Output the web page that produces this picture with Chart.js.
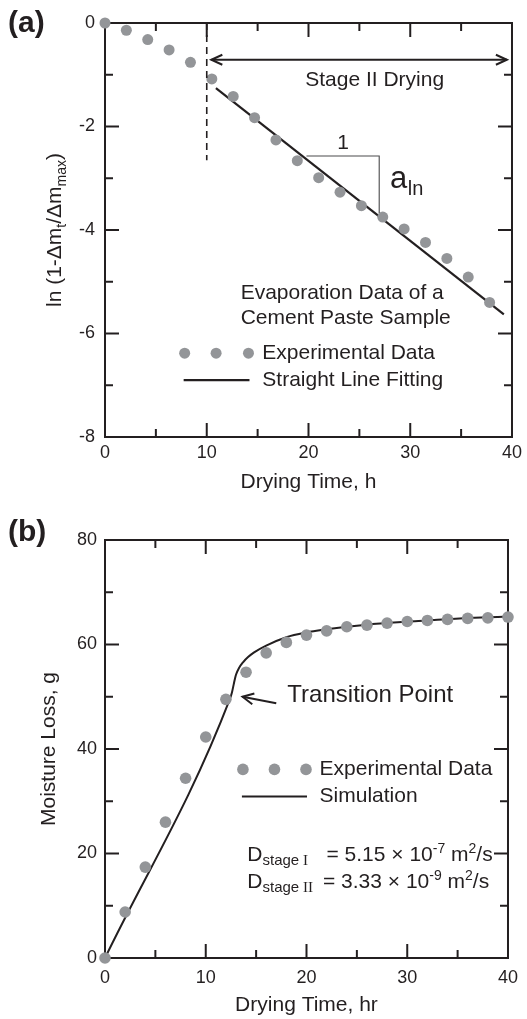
<!DOCTYPE html>
<html><head><meta charset="utf-8">
<script src="https://cdn.jsdelivr.net/npm/chart.js@4/dist/chart.umd.min.js"></script>
<style>
html,body{margin:0;padding:0;background:#fff;width:527px;height:1019px;overflow:hidden}
.box{position:absolute;left:0;width:527px}
#boxA{top:0;height:500px}
#boxB{top:500px;height:519px}
</style></head><body>
<div class="box" id="boxA"><canvas id="ca"></canvas></div>
<div class="box" id="boxB"><canvas id="cb"></canvas></div>
<script>
// ---------- data (a) ----------
const timeA = [0, 2.1, 4.2, 6.3, 8.4, 10.5, 12.6, 14.7, 16.8, 18.9, 21.0, 23.1, 25.2, 27.3, 29.4, 31.5, 33.6, 35.7, 37.8];
const lnA   = [0, -0.14, -0.32, -0.52, -0.76, -1.08, -1.42, -1.83, -2.26, -2.66, -2.99, -3.27, -3.53, -3.75, -3.98, -4.24, -4.55, -4.91, -5.40];
const fitTime = [10.9, 39.2];
const fitLn   = [-1.26, -5.63];
// ---------- data (b) ----------
const timeB = [0, 2, 4, 6, 8, 10, 12, 14, 16, 18, 20, 22, 24, 26, 28, 30, 32, 34, 36, 38, 40];
const lossB = [0, 8.8, 17.4, 26.0, 34.4, 42.3, 49.5, 54.7, 58.4, 60.4, 61.8, 62.6, 63.4, 63.7, 64.1, 64.4, 64.6, 64.8, 65.0, 65.1, 65.25];
const simTime = [0, 12.4, 12.6, 12.8, 13.0, 13.3, 13.7, 14.2, 14.8, 16, 18, 20, 22, 24, 26, 28, 30, 32, 34, 36, 38, 40];
const simLoss = [0, 49.6, 50.8, 52.6, 54.2, 55.5, 56.6, 57.6, 58.5, 59.8, 61.4, 62.3, 62.9, 63.4, 63.8, 64.1, 64.4, 64.6, 64.85, 65.05, 65.2, 65.35];
// ---------- ticks ----------
const xMajor = [0, 10, 20, 30, 40];
const xMinor = [5, 15, 25, 35];
const yMajorA = [0, -2, -4, -6, -8];
const yMinorA = [-1, -3, -5, -7];
const yMajorB = [0, 20, 40, 60, 80];
const yMinorB = [10, 30, 50, 70];

const INK = '#231f20', GRAY = '#939598';
const FF = "'Liberation Sans', Arial, Helvetica, sans-serif";
const SERIF = "'Liberation Serif', 'Times New Roman', serif";

function pts(xs, ys){ return xs.map((v,i)=>({x:v, y:ys[i]})); }
function seg(ctx,x1,y1,x2,y2){ ctx.beginPath(); ctx.moveTo(x1,y1); ctx.lineTo(x2,y2); ctx.stroke(); }
function head(ctx, tx, ty, fx, fy, len, half){
  const a = Math.atan2(ty-fy, tx-fx);
  const c = Math.cos(a), s = Math.sin(a);
  const bx = tx - c*len, by = ty - s*len;
  ctx.beginPath();
  ctx.moveTo(bx - s*half, by + c*half);
  ctx.lineTo(tx, ty);
  ctx.lineTo(bx + s*half, by - c*half);
  ctx.stroke();
}
function text(ctx, s, x, y, font, align, base){
  ctx.font = font; ctx.textAlign = align || 'left'; ctx.textBaseline = base || 'middle';
  ctx.fillStyle = INK; ctx.fillText(s, x, y);
}
// sequence of [string, font, baselineOffset]
function runs(ctx, parts, x, y){
  ctx.textAlign='left'; ctx.textBaseline='alphabetic'; ctx.fillStyle=INK;
  let cx = x;
  for (const [s,f,dy] of parts){ ctx.font=f; ctx.fillText(s, cx, y+(dy||0)); cx += ctx.measureText(s).width; }
  return cx;
}
function runsWidth(ctx, parts){ let w=0; for (const [s,f] of parts){ ctx.font=f; w+=ctx.measureText(s).width; } return w; }

const framePlugin = {
  id: 'frame',
  beforeDatasetsDraw(chart, args, o){
    const {ctx, chartArea:a, scales:{x,y}} = chart;
    ctx.save();
    ctx.strokeStyle = INK; ctx.lineWidth = 2; ctx.lineCap='butt';
    ctx.strokeRect(a.left, a.top, a.right-a.left, a.bottom-a.top);
    const L = 14, S = 8;
    for (const v of o.xMajor){ const p=x.getPixelForValue(v); seg(ctx,p,a.bottom,p,a.bottom-L); seg(ctx,p,a.top,p,a.top+L); }
    for (const v of o.xMinor){ const p=x.getPixelForValue(v); seg(ctx,p,a.bottom,p,a.bottom-S); seg(ctx,p,a.top,p,a.top+S); }
    for (const v of o.yMajor){ const p=y.getPixelForValue(v); seg(ctx,a.left,p,a.left+L,p); seg(ctx,a.right,p,a.right-L,p); }
    for (const v of o.yMinor){ const p=y.getPixelForValue(v); seg(ctx,a.left,p,a.left+S,p); seg(ctx,a.right,p,a.right-S,p); }
    ctx.restore();
  }
};

function scaleX(ticksArr, pad, h){
  return { type:'linear', min:0, max:40,
    afterBuildTicks: s => { s.ticks = ticksArr.map(v=>({value:v})); },
    ticks:{ font:{family:FF, size:18}, color:INK, padding:pad, maxRotation:0, autoSkip:false },
    grid:{ display:false, drawTicks:false }, border:{ display:false },
    afterFit: s => { s.height = h; } };
}
function scaleY(min, max, ticksArr, pad){
  return { type:'linear', min:min, max:max,
    afterBuildTicks: s => { s.ticks = ticksArr.map(v=>({value:v})); },
    ticks:{ font:{family:FF, size:18}, color:INK, padding:pad, autoSkip:false },
    grid:{ display:false, drawTicks:false }, border:{ display:false },
    afterFit: s => { s.width = 105; } };
}

// ---------- chart (a) ----------
const annotA = {
  id:'annotA',
  afterDatasetsDraw(chart){
    const {ctx, scales:{x,y}, chartArea:a} = chart;
    const X = v=>x.getPixelForValue(v), Y = v=>y.getPixelForValue(v);
    ctx.save();
    ctx.strokeStyle = INK;
    // dashed separator
    ctx.lineWidth = 1.6; ctx.setLineDash([7,5]);
    seg(ctx, X(10), Y(0), X(10), Y(-2.65));
    ctx.setLineDash([]);
    // double arrow
    ctx.lineWidth = 2;
    seg(ctx, X(10.45), Y(-0.71), X(39.5), Y(-0.71));
    head(ctx, X(10.45), Y(-0.71), X(20), Y(-0.71), 11, 5);
    head(ctx, X(39.5), Y(-0.71), X(30), Y(-0.71), 11, 5);
    text(ctx, 'Stage II Drying', X(26.5), Y(-1.10), `21px ${FF}`, 'center', 'middle');
    // slope triangle
    ctx.lineWidth = 1.1; ctx.strokeStyle = '#4a4a4c';
    ctx.beginPath(); ctx.moveTo(X(19.8), Y(-2.57)); ctx.lineTo(X(26.95), Y(-2.57)); ctx.lineTo(X(26.95), Y(-3.67)); ctx.stroke();
    text(ctx, '1', X(23.4), Y(-2.32), `21px ${FF}`, 'center', 'middle');
    text(ctx, 'a', X(28.0), Y(-3.19), `31px ${FF}`, 'left', 'alphabetic');
    text(ctx, 'ln', X(29.76), Y(-3.32), `20px ${FF}`, 'left', 'alphabetic');
    // legend block
    text(ctx, 'Evaporation Data of a', X(13.33), Y(-5.22), `21px ${FF}`, 'left', 'middle');
    text(ctx, 'Cement Paste Sample', X(13.33), Y(-5.70), `21px ${FF}`, 'left', 'middle');
    ctx.fillStyle = GRAY;
    for (const xv of [7.83, 10.92, 14.1]){ ctx.beginPath(); ctx.arc(X(xv), Y(-6.38), 5.5, 0, Math.PI*2); ctx.fill(); }
    text(ctx, 'Experimental Data', X(15.46), Y(-6.38), `21px ${FF}`, 'left', 'middle');
    ctx.strokeStyle = INK; ctx.lineWidth = 2.2;
    seg(ctx, X(7.73), Y(-6.90), X(14.2), Y(-6.90));
    text(ctx, 'Straight Line Fitting', X(15.46), Y(-6.90), `21px ${FF}`, 'left', 'middle');
    // panel letter
    text(ctx, '(a)', 8, 32, `bold 30px ${FF}`, 'left', 'alphabetic');
    // axis titles
    text(ctx, 'Drying Time, h', (a.left+a.right)/2, 482, `21px ${FF}`, 'center', 'middle');
    const main = `21px ${FF}`, sub = `14px ${FF}`;
    const parts = [['ln (1-\u0394m',main,0],['t',sub,5],['/\u0394m',main,0],['max',sub,5],[')',main,0]];
    ctx.save();
    ctx.translate(61, (a.top+a.bottom)/2);
    ctx.rotate(-Math.PI/2);
    const w = runsWidth(ctx, parts);
    runs(ctx, parts, -w/2, 0);
    ctx.restore();
    ctx.restore();
  }
};

new Chart(document.getElementById('ca'), {
  data: { datasets: [
    { type:'scatter', label:'Experimental Data', data: pts(timeA, lnA), backgroundColor:GRAY, borderWidth:0, pointRadius:5.5, clip:false },
    { type:'line', label:'Straight Line Fitting', data: pts(fitTime, fitLn), borderColor:INK, borderWidth:2.2, pointRadius:0, fill:false, clip:false }
  ]},
  options: {
    responsive:true, maintainAspectRatio:false, animation:false, devicePixelRatio:1,
    layout:{ padding:{ top:23, right:8, left:0, bottom:0 } },
    plugins:{ legend:{display:false}, tooltip:{enabled:false},
      frame:{ xMajor, xMinor, yMajor:yMajorA, yMinor:yMinorA } },
    scales:{ x: scaleX(xMajor, 5, 63), y: scaleY(-8, 0, yMajorA, 10) }
  },
  plugins:[framePlugin, annotA]
});

// ---------- chart (b) ----------
const annotB = {
  id:'annotB',
  afterDatasetsDraw(chart){
    const {ctx, scales:{x,y}, chartArea:a} = chart;
    const X = v=>x.getPixelForValue(v), Y = v=>y.getPixelForValue(v);
    ctx.save();
    ctx.strokeStyle = INK; ctx.lineWidth = 2;
    // transition arrow
    seg(ctx, X(17.0), Y(48.75), X(13.65), Y(50.0));
    head(ctx, X(13.65), Y(50.0), X(17.0), Y(48.75), 11, 5.5);
    text(ctx, 'Transition Point', X(18.1), Y(50.3), `24px ${FF}`, 'left', 'middle');
    // legend
    ctx.fillStyle = GRAY;
    for (const xv of [13.69, 16.82, 19.95]){ ctx.beginPath(); ctx.arc(X(xv), Y(36.1), 5.8, 0, Math.PI*2); ctx.fill(); }
    text(ctx, 'Experimental Data', X(21.3), Y(36.1), `21px ${FF}`, 'left', 'middle');
    ctx.lineWidth = 2;
    seg(ctx, X(13.59), Y(30.9), X(20.05), Y(30.9));
    text(ctx, 'Simulation', X(21.3), Y(30.9), `21px ${FF}`, 'left', 'middle');
    // diffusivities
    const big = `21px ${FF}`, sm = `15px ${FF}`, smS = `15px ${SERIF}`, sup = `14px ${FF}`;
    const b1 = Y(18.47), b2 = Y(13.38), dx = X(14.13);
    runs(ctx, [['D',big,0],['stage',sm,4],[' I',smS,4]], dx, b1);
    runs(ctx, [['= 5.15 \u00d7 10',big,0],['-7',sup,-8],[' m',big,0],['2',sup,-8],['/s',big,0]], 326.5, b1);
    runs(ctx, [['D',big,0],['stage',sm,4],[' II',smS,4]], dx, b2);
    runs(ctx, [['= 3.33 \u00d7 10',big,0],['-9',sup,-8],[' m',big,0],['2',sup,-8],['/s',big,0]], 323, b2);
    // panel letter
    text(ctx, '(b)', 8, 41, `bold 30px ${FF}`, 'left', 'alphabetic');
    // axis titles
    text(ctx, 'Drying Time, hr', (a.left+a.right)/2, 505, `21px ${FF}`, 'center', 'middle');
    ctx.save();
    ctx.translate(55, (a.top+a.bottom)/2);
    ctx.rotate(-Math.PI/2);
    text(ctx, 'Moisture Loss, g', 0, 0, `21px ${FF}`, 'center', 'alphabetic');
    ctx.restore();
    ctx.restore();
  }
};

new Chart(document.getElementById('cb'), {
  data: { datasets: [
    { type:'line', label:'Simulation', data: pts(simTime, simLoss), borderColor:INK, borderWidth:2, pointRadius:0, fill:false, cubicInterpolationMode:'monotone', clip:false, order:2 },
    { type:'scatter', label:'Experimental Data', data: pts(timeB, lossB), backgroundColor:GRAY, borderWidth:0, pointRadius:5.8, clip:false, order:1 }
  ]},
  options: {
    responsive:true, maintainAspectRatio:false, animation:false, devicePixelRatio:1,
    layout:{ padding:{ top:40, right:7, left:0, bottom:0 } },
    plugins:{ legend:{display:false}, tooltip:{enabled:false},
      frame:{ xMajor, xMinor, yMajor:yMajorB, yMinor:yMinorB } },
    scales:{ x: scaleX(xMajor, 9, 61), y: scaleY(0, 80, yMajorB, 8) }
  },
  plugins:[framePlugin, annotB]
});
</script>
</body></html>
